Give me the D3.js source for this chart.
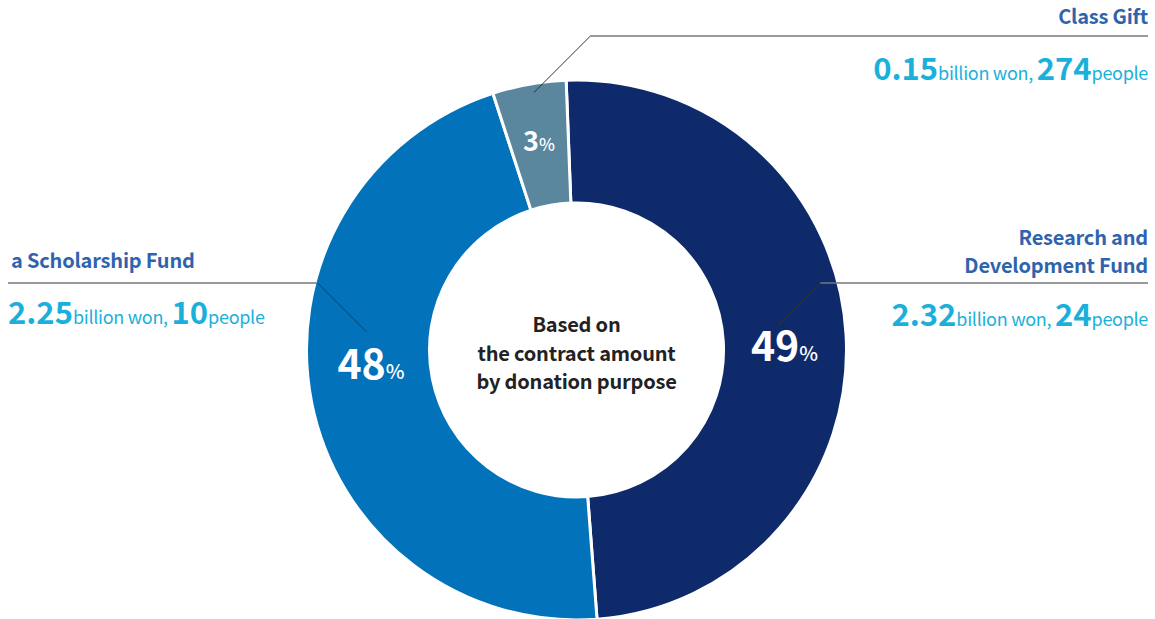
<!DOCTYPE html>
<html>
<head>
<meta charset="utf-8">
<script src="https://cdn.jsdelivr.net/npm/d3@7"></script>
<style>
  html, body { margin: 0; padding: 0; background: #fff; }
  svg { display: block; font-family: "Noto Sans CJK KR", "Noto Sans", sans-serif; }
</style>
</head>
<body>
<svg id="donut" width="1155" height="619"></svg>
<script>
// data
const categories = ["Research and Development Fund", "a Scholarship Fund", "Class Gift"];
const titleLines = [["Research and", "Development Fund"], ["a Scholarship Fund"], ["Class Gift"]];
const amounts = [2.32, 2.25, 0.15];       // billion won
const people = [24, 10, 274];
const percents = [49, 48, 3];             // printed labels
const shares = [49.4, 46.2, 4.4];         // share of the ring as drawn
const colors = ["#0e2a6b", "#0272bb", "#5a879e"];

const width = 1155, height = 619;
const cx = 576.5, cy = 350;
const outerR = 270, innerR = 147;
const deg = Math.PI / 180;
const start = -2.2 * deg;

const svg = d3.select("#donut")
  .attr("viewBox", `0 0 ${width} ${height}`);

const pie = d3.pie().sort(null).value(d => d)
  .startAngle(start).endAngle(start + 2 * Math.PI);
const arcs = pie(shares);

const arc = d3.arc().innerRadius(innerR).outerRadius(outerR);

const g = svg.append("g").attr("transform", `translate(${cx},${cy})`);

g.selectAll("path.slice")
  .data(arcs)
  .join("path")
  .attr("class", "slice")
  .attr("d", arc)
  .attr("fill", (d, i) => colors[i])
  .attr("stroke", "#fff")
  .attr("stroke-width", 3);

//* percent labels inside the ring
const pctLayout = [
  { angle: 89, r: 208, big: 41, small: 20 },
  { angle: 266, r: 206, big: 41, small: 20 },
  { angle: -10.2, r: 212, big: 27, small: 17 }
];
const polar = (a, r) => [r * Math.sin(a * deg), -r * Math.cos(a * deg)];

g.selectAll("text.pct")
  .data(arcs)
  .join("text")
  .attr("class", "pct")
  .attr("transform", (d, i) => {
    const [x, y] = polar(pctLayout[i].angle, pctLayout[i].r);
    return `translate(${x},${y})`;
  })
  .attr("text-anchor", "middle")
  .attr("dy", (d, i) => pctLayout[i].big * 0.36)
  .attr("fill", "#fff")
  .attr("font-weight", "bold")
  .each(function (d, i) {
    const t = d3.select(this);
    t.append("tspan").attr("font-size", pctLayout[i].big).text(percents[i]);
    t.append("tspan").attr("font-size", pctLayout[i].small).attr("font-weight", "500").text("%");
  });

//* centre text
const centreLines = ["Based on", "the contract amount", "by donation purpose"];
g.selectAll("text.centre")
  .data(centreLines)
  .join("text")
  .attr("class", "centre")
  .attr("x", 0)
  .attr("y", (d, i) => -18 + i * 28.5)
  .attr("text-anchor", "middle")
  .attr("font-size", 20)
  .attr("font-weight", "bold")
  .attr("fill", "#222")
  .attr("letter-spacing", "-0.2")
  .text(d => d);

//* callouts
const callouts = [
  { side: "right", x: 1148, ruleY: 283, titleY: [245, 273], valueY: 326, tipAngle: 83, tipR: 203 },
  { side: "left", x: 8, ruleY: 283, titleY: [268], valueY: 324, tipAngle: 275, tipR: 211 },
  { side: "right", x: 1148, ruleY: 36, titleY: [24], valueY: 80, tipAngle: -9.4, tipR: 261 }
];

callouts.forEach((c, i) => {
  const [tx, ty] = polar(c.tipAngle, c.tipR);
  const tipX = cx + tx, tipY = cy + ty;
  const dir = c.side === "right" ? 1 : -1;
  const elbowX = tipX + dir * Math.abs(tipY - c.ruleY);

  svg.append("line")
    .attr("x1", c.side === "right" ? elbowX : c.x)
    .attr("x2", c.side === "right" ? c.x : elbowX)
    .attr("y1", c.ruleY).attr("y2", c.ruleY)
    .attr("stroke", "#777").attr("stroke-width", 1.5);

  svg.append("line")
    .attr("x1", elbowX).attr("y1", c.ruleY)
    .attr("x2", tipX).attr("y2", tipY)
    .attr("stroke", "#333").attr("stroke-width", 1);

  const anchor = c.side === "right" ? "end" : "start";
  const tx0 = c.side === "right" ? c.x : c.x + 3;

  titleLines[i].forEach((line, j) => {
    svg.append("text")
      .attr("x", tx0).attr("y", c.titleY[j])
      .attr("text-anchor", anchor)
      .attr("font-size", 20)
      .attr("font-weight", "bold")
      .attr("fill", "#2f64ad")
      .attr("letter-spacing", "-0.2")
      .text(line);
  });

  const v = svg.append("text")
    .attr("x", c.x).attr("y", c.valueY)
    .attr("text-anchor", anchor)
    .attr("fill", "#1bb0dc");
  v.append("tspan").attr("font-size", 31).attr("font-weight", "bold").text(amounts[i].toFixed(2));
  v.append("tspan").attr("font-size", 18).attr("font-weight", "normal").attr("letter-spacing", "-0.3").text("billion won, ");
  v.append("tspan").attr("font-size", 31).attr("font-weight", "bold").text(people[i]);
  v.append("tspan").attr("font-size", 18).attr("font-weight", "normal").attr("letter-spacing", "-0.3").text("people");
});
</script>
</body>
</html>
